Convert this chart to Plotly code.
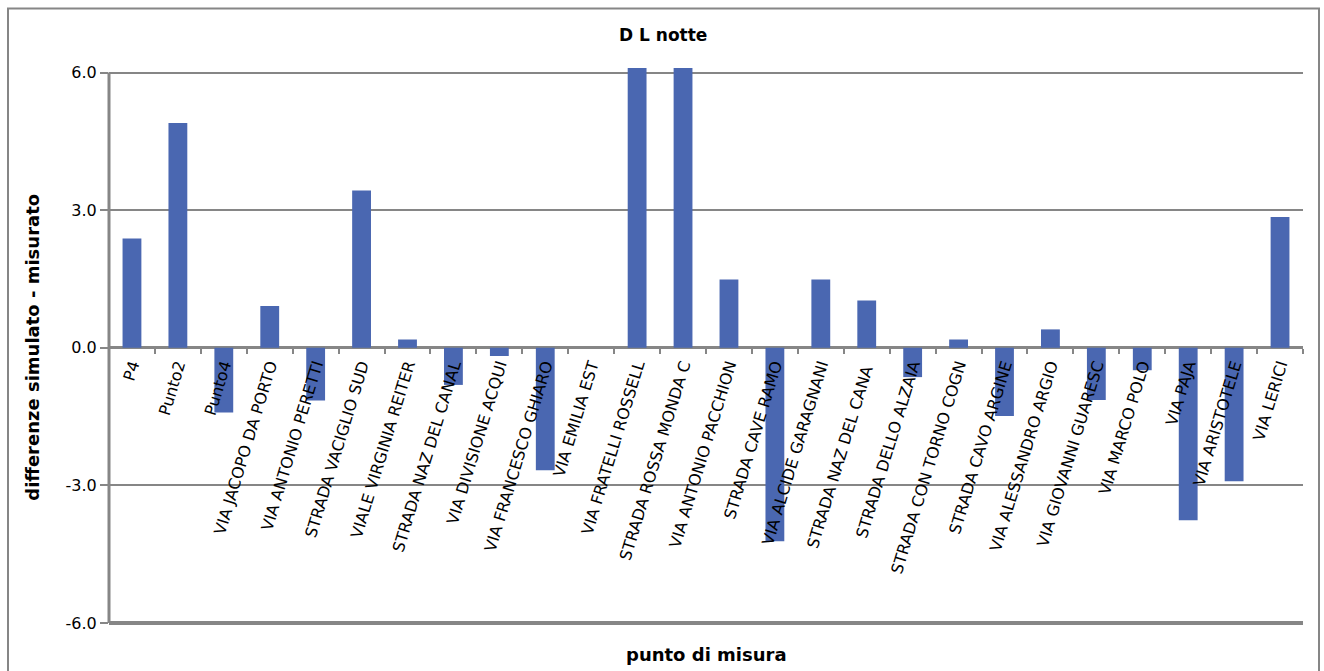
import plotly.graph_objects as go

categories = [
    "P4", "Punto2", "Punto4", "VIA JACOPO DA PORTO", "VIA ANTONIO PERETTI",
    "STRADA VACIGLIO SUD", "VIALE VIRGINIA REITER", "STRADA NAZ DEL CANAL",
    "VIA DIVISIONE ACQUI", "VIA FRANCESCO GHIARO", "VIA EMILIA EST",
    "VIA FRATELLI ROSSELL", "STRADA ROSSA MONDA C", "VIA ANTONIO PACCHION",
    "STRADA CAVE RAMO", "VIA ALCIDE GARAGNANI", "STRADA NAZ DEL CANA ",
    "STRADA DELLO ALZAIA", "STRADA CON TORNO COGN", "STRADA CAVO ARGINE",
    "VIA ALESSANDRO ARGIO", "VIA GIOVANNI GUARESC", "VIA MARCO POLO",
    "VIA PAJA", "VIA ARISTOTELE", "VIA LERICI",
]
values = [
    2.38, 4.9, -1.41, 0.91, -1.15,
    3.43, 0.18, -0.81,
    -0.18, -2.67, 0.0,
    6.1, 6.1, 1.49,
    -4.22, 1.49, 1.03,
    -0.64, 0.18, -1.49,
    0.4, -1.14, -0.49,
    -3.76, -2.91, 2.85,
]
y_tickvals = [-6, -3, 0, 3, 6]
y_ticktext = ["-6.0", "-3.0", "0.0", "3.0", "6.0"]

title_text = "D L notte"
x_title = "punto di misura"
y_title = "differenze simulato - misurato"

GRAY = "#868686"
BLUE = "#4A67B1"
FONT = "DejaVu Sans"

W, H = 1324, 671
Y_MIN, Y_MAX = -6, 6.12
PX_PER_UNIT = 550 / 12.0
L, R, B = 109, 1303, 623
T = B - (Y_MAX - Y_MIN) * PX_PER_UNIT


def px_x(p):
    return (p - L) / (R - L)


def px_y(p):
    return (B - p) / (B - T)


fig = go.Figure()
fig.add_trace(go.Bar(
    x=categories, y=values, marker_color=BLUE, marker_line_width=0,
    width=0.41,
))

zero_frac = (0 - Y_MIN) / (Y_MAX - Y_MIN)

fig.update_layout(
    width=W, height=H,
    margin=dict(l=L, r=W - R, t=T, b=H - B, pad=0),
    paper_bgcolor="white", plot_bgcolor="white",
    showlegend=False,
    font=dict(family=FONT, size=16, color="black"),
    xaxis=dict(
        type="category", anchor="free", position=zero_frac,
        showgrid=False, showline=False, zeroline=False,
        ticks="outside", tickson="boundaries", ticklen=5, tickwidth=2,
        tickcolor=GRAY, tickangle=-73, ticklabelstandoff=4,
        tickfont=dict(family=FONT, size=16, color="black"),
        range=[-0.5, len(categories) - 0.5],
    ),
    yaxis=dict(
        range=[Y_MIN, Y_MAX], tickvals=y_tickvals, ticktext=y_ticktext,
        showgrid=True, gridcolor=GRAY, gridwidth=2,
        zeroline=True, zerolinecolor=GRAY, zerolinewidth=2.5,
        showline=False,
        ticks="outside", ticklen=8, tickwidth=2, tickcolor=GRAY,
        tickfont=dict(family=FONT, size=16, color="black"),
    ),
    shapes=[
        dict(type="rect", xref="paper", yref="paper",
             x0=px_x(8), x1=px_x(1319), y0=px_y(700), y1=px_y(9),
             line=dict(color=GRAY, width=2), fillcolor="rgba(0,0,0,0)",
             layer="below"),
        dict(type="line", xref="paper", yref="paper",
             x0=0, x1=1, y0=0, y1=0,
             line=dict(color=GRAY, width=4)),
        dict(type="line", xref="paper", yref="paper",
             x0=0, x1=0, y0=0, y1=px_y(73),
             line=dict(color=GRAY, width=3)),
    ],
    annotations=[
        dict(text="<b>%s</b>" % title_text, xref="paper", yref="paper",
             x=px_x(663), y=px_y(36), xanchor="center", yanchor="middle",
             showarrow=False, font=dict(family=FONT, size=17, color="black")),
        dict(text="<b>%s</b>" % x_title, xref="paper", yref="paper",
             x=px_x(706), y=px_y(654), xanchor="center", yanchor="middle",
             showarrow=False, font=dict(family=FONT, size=18, color="black")),
        dict(text="<b>%s</b>" % y_title, xref="paper", yref="paper",
             x=px_x(33), y=px_y(348), xanchor="center", yanchor="middle",
             textangle=-90,
             showarrow=False, font=dict(family=FONT, size=18, color="black")),
    ],
)

fig.write_html("out.html")
